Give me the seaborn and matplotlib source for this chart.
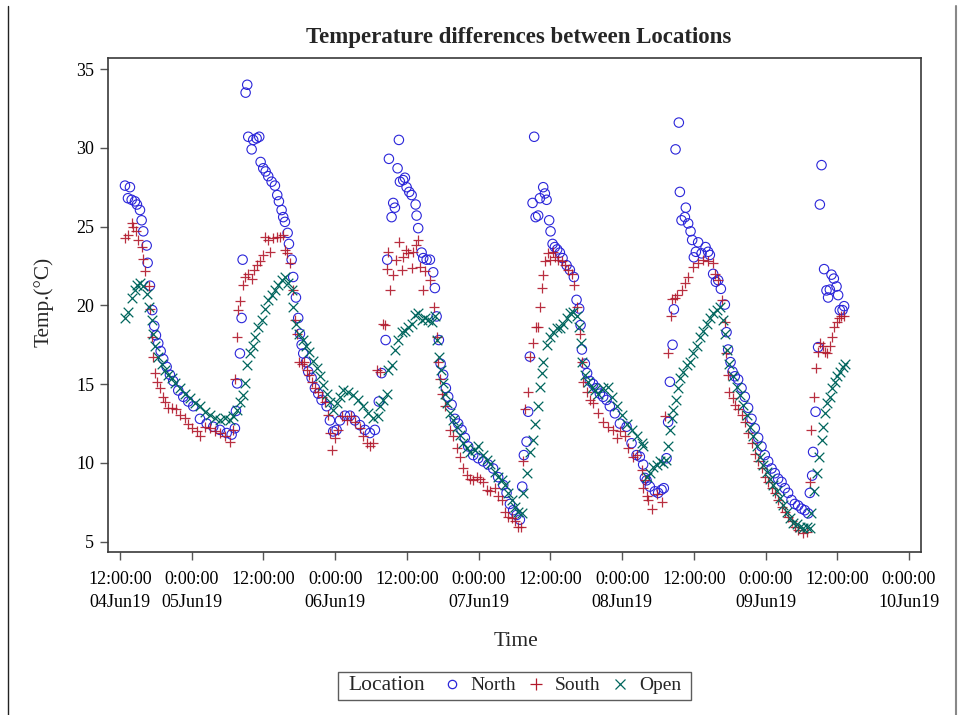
import numpy as np
import pandas as pd
import matplotlib
matplotlib.use("Agg")
import matplotlib.pyplot as plt
from matplotlib.lines import Line2D
from matplotlib.offsetbox import HPacker, DrawingArea
import seaborn as sns

# ---------------- data (hours after 04Jun19 12:00, temperature °C) ----------------
north_t = [0.84,1.34,1.67,1.96,2.51,2.84,3.35,3.63,3.90,4.47,4.63,5.02,5.40,5.74,6.02,6.41,6.81,7.24,7.81,8.36,
           8.91,9.75,10.59,11.42,12.26,13.38,14.50,15.60,16.73,17.85,18.68,19.23,19.40,19.60,20.07,20.35,20.52,21.02,21.29,21.46,
           22.03,22.29,22.86,23.30,23.53,23.97,24.37,24.80,25.37,25.92,26.31,26.59,27.04,27.31,27.60,28.05,28.27,28.72,28.98,29.44,
           29.82,30.11,30.39,30.66,31.11,31.49,32.06,32.61,33.17,33.73,34.57,35.12,35.67,36.24,36.80,37.63,38.47,39.30,40.14,40.98,
           41.81,42.65,43.30,43.77,44.44,44.71,44.99,45.44,45.71,45.99,46.44,46.66,46.83,47.38,47.67,47.95,48.39,48.79,49.46,49.62,
           49.89,50.46,50.73,51.30,51.85,52.40,52.68,52.97,53.35,53.64,54.07,54.52,54.91,55.48,56.03,56.58,57.15,57.70,58.25,59.09,
           59.93,60.76,61.60,62.43,63.27,64.11,64.67,65.23,65.78,66.35,66.90,67.29,67.57,68.02,68.29,68.57,69.02,69.29,69.53,69.96,
           70.25,70.80,71.08,71.37,71.80,72.03,72.37,72.75,73.14,73.59,74.04,74.71,75.26,75.93,76.38,76.82,77.05,77.27,77.77,78.15,
           78.61,79.16,79.73,80.28,80.83,81.40,81.95,82.79,83.63,84.74,85.58,86.42,86.97,87.52,87.81,88.09,88.64,89.48,90.03,90.60,
           90.98,91.43,91.70,91.99,92.44,92.66,92.94,93.49,93.66,93.94,94.50,94.66,95.05,95.45,95.72,96.00,96.34,96.72,97.29,97.96,
           98.39,98.68,99.23,99.68,100.07,100.52,101.19,101.47,101.74,102.14,102.47,102.86,103.41,103.98,104.53,105.08,105.65,106.20,106.76,107.32,
           107.87,108.43,109.00,109.55,110.10,110.67,111.22,111.77,112.34,112.89,113.44,114.01,114.56,115.12,115.40,115.79,115.95,116.36,116.79,117.08,
           117.36,117.79,118.19,118.46,118.75,119.03,119.42,119.87,120.14,120.42,120.87,121.14]
north_v = [27.6,26.8,27.5,26.7,26.6,26.4,26.05,25.4,24.7,23.8,22.7,21.25,19.7,18.7,18.1,17.6,17.1,16.6,16.1,15.6,
           15.2,14.6,14.2,13.9,13.6,12.8,12.5,12.3,12.1,11.9,11.8,12.2,13.3,15.05,16.95,19.2,22.9,33.5,34.0,30.7,
           29.9,30.5,30.6,30.7,29.1,28.7,28.5,28.2,27.85,27.6,27.0,26.6,26.05,25.6,25.3,24.6,23.9,22.9,21.8,20.5,
           19.2,18.2,17.5,16.95,16.4,15.8,15.4,14.75,14.4,14.0,13.6,12.7,12.0,12.1,12.7,13.0,13.0,12.7,12.4,12.1,
           11.9,12.1,13.9,15.7,17.8,22.9,29.3,25.6,26.5,26.2,28.7,30.5,27.85,27.95,28.1,27.5,27.2,27.0,26.4,25.7,
           24.9,23.35,23.0,22.9,22.9,22.1,21.1,19.3,17.8,16.3,15.6,14.75,14.2,13.7,12.8,12.5,12.1,11.6,11.05,10.5,
           10.3,10.1,9.9,9.65,9.1,8.6,8.1,7.4,7.0,6.7,6.4,8.5,10.5,11.35,13.25,16.75,26.5,30.7,25.6,25.7,
           26.8,27.5,27.1,26.7,25.4,24.7,23.9,23.7,23.55,23.35,23.0,22.55,22.25,21.8,20.35,19.8,18.75,17.2,16.3,15.7,
           15.2,15.0,14.75,14.4,14.2,14.0,13.6,13.15,12.5,12.3,11.25,10.5,10.4,9.9,9.05,8.9,8.5,8.2,8.1,8.3,
           8.4,10.3,12.6,15.15,17.5,19.75,29.9,31.6,27.2,25.4,25.6,26.2,25.2,24.7,24.15,23.05,23.4,24.0,23.3,23.7,
           23.4,23.2,22.0,21.5,21.6,21.05,20.05,18.3,17.2,16.4,15.8,15.5,15.3,14.75,14.2,13.5,12.8,12.2,11.6,11.05,
           10.5,10.1,9.65,9.35,9.0,8.8,8.4,8.1,7.65,7.4,7.3,7.1,7.0,6.8,8.1,9.2,10.7,13.25,17.35,26.4,
           28.9,22.3,20.95,20.5,21.0,21.95,21.7,21.2,20.65,19.7,19.7,19.95]

south_t = [0.84,1.39,1.96,2.22,2.68,3.06,3.63,3.80,4.18,4.90,5.02,5.30,5.57,5.85,6.24,6.69,7.14,7.53,8.08,8.65,
           9.37,10.04,10.87,11.42,11.99,12.83,13.38,14.22,15.05,15.89,16.73,17.56,18.40,18.95,19.23,19.52,19.69,20.07,20.52,20.91,
           21.46,22.03,22.41,22.86,23.42,23.97,24.25,24.80,25.09,25.64,26.21,26.76,27.21,27.60,27.98,28.43,28.88,29.27,29.55,29.94,
           30.39,30.77,31.23,31.66,32.06,32.61,33.17,33.73,34.29,34.84,35.12,35.51,35.96,36.51,37.08,37.92,38.58,39.30,40.14,40.69,
           41.26,41.81,42.36,43.00,43.50,44.04,44.32,44.60,44.87,45.16,45.71,46.16,46.71,47.11,47.38,47.83,48.22,48.79,49.06,49.51,
           49.89,50.18,50.73,51.01,51.85,52.57,52.97,53.24,53.52,53.80,54.36,55.19,55.74,56.31,56.87,57.42,57.99,58.54,59.09,59.66,
           60.21,60.76,61.33,61.88,62.72,63.27,63.84,64.39,64.94,65.51,66.06,66.62,67.02,67.45,67.74,68.29,68.57,69.12,69.53,69.96,
           70.25,70.53,70.80,71.08,71.63,71.92,72.37,72.75,73.31,73.87,74.43,74.98,75.55,75.93,76.48,76.94,77.22,77.49,78.05,78.61,
           79.16,80.00,80.83,81.67,82.51,83.07,83.63,84.46,85.01,85.85,86.42,87.25,87.52,87.81,88.09,88.37,88.93,89.77,90.60,91.15,
           91.70,92.10,92.27,92.82,93.21,93.94,94.50,95.05,95.89,96.72,97.56,98.39,99.13,99.51,100.07,100.64,101.19,101.36,101.74,101.91,
           102.47,102.86,103.41,103.98,104.53,105.08,105.65,106.20,106.76,107.32,107.87,108.43,109.00,109.55,110.10,110.67,111.22,111.77,112.34,112.89,
           113.44,114.28,114.85,115.40,115.68,116.07,116.36,116.79,117.08,117.53,117.92,118.30,118.75,119.03,119.42,119.87,120.30,120.70,121.09]
south_v = [24.25,24.45,25.2,25.0,24.7,24.15,23.7,22.95,22.2,21.2,19.8,18.0,16.75,15.7,15.15,14.75,14.2,13.9,13.5,13.5,
           13.4,13.05,12.85,12.5,12.2,12.0,11.7,12.3,12.2,12.0,11.9,11.7,11.35,12.1,15.3,18.0,19.7,20.25,21.3,21.8,
           22.0,21.7,22.25,22.55,22.8,23.2,24.35,24.15,23.4,24.25,24.35,24.35,24.45,23.5,23.3,22.7,21.0,19.1,18.2,16.4,
           16.3,16.4,15.9,15.6,15.15,14.75,14.5,14.2,13.9,13.05,11.9,10.8,11.6,12.1,12.95,12.7,12.95,12.6,12.2,11.7,
           11.25,11.05,11.25,15.9,15.8,18.85,18.75,22.3,23.4,20.95,21.9,22.9,24.05,22.25,23.1,23.5,23.3,22.35,23.4,23.85,
           24.15,22.45,20.95,22.15,21.6,19.9,18.0,16.4,15.3,14.4,13.6,12.1,11.7,10.95,10.4,9.65,9.25,9.0,8.9,9.1,
           9.0,8.8,8.3,8.2,8.4,7.9,7.65,6.9,6.6,6.5,6.3,5.95,5.95,10.1,13.4,14.5,16.75,17.6,18.65,18.65,
           19.9,21.1,21.9,22.8,23.35,22.9,23.4,23.1,22.9,22.8,22.55,22.25,22.0,21.3,19.9,18.2,16.4,15.15,14.5,14.0,
           13.8,13.15,12.6,12.3,12.1,11.6,12.0,11.7,10.95,10.4,10.5,9.55,8.4,8.9,7.9,7.65,7.1,8.0,7.55,12.95,
           16.95,19.3,20.4,20.45,20.65,20.95,21.4,21.8,22.45,22.7,22.9,22.8,22.7,22.0,21.6,20.35,18.95,16.95,15.6,14.5,
           14.1,13.7,13.4,13.05,12.6,11.9,11.25,10.6,10.1,9.65,9.1,8.8,8.4,8.1,7.65,7.2,6.9,6.6,6.3,5.95,
           5.75,5.55,5.65,8.8,12.1,14.2,16.0,17.05,17.6,17.4,17.05,16.95,17.4,18.0,18.65,18.95,19.2,19.3,19.35]

open_t = [0.84,1.39,1.96,2.51,2.89,3.35,3.90,4.47,4.90,5.30,5.57,5.85,6.41,6.97,7.53,8.08,8.65,9.20,10.04,10.87,
          11.71,12.54,13.38,14.22,15.05,15.89,16.73,17.56,18.40,18.95,19.52,20.07,20.52,20.91,21.29,21.74,22.19,22.58,23.13,23.70,
          24.25,24.80,25.37,25.92,26.48,27.04,27.60,28.15,28.72,28.98,29.44,29.99,30.56,31.11,31.66,32.33,32.90,33.45,34.00,34.57,
          35.12,35.67,36.24,36.80,37.35,38.18,39.02,39.86,40.69,41.53,42.36,43.20,43.49,44.04,44.60,44.87,45.44,45.99,46.55,47.11,
          47.67,48.22,48.79,49.34,49.89,50.46,51.01,51.56,52.13,52.68,52.97,53.35,53.64,53.97,54.36,54.74,55.19,55.74,56.31,56.87,
          57.42,57.99,58.54,59.37,59.93,60.76,61.33,61.88,62.72,63.27,63.84,64.39,64.94,65.51,66.06,66.62,67.18,67.45,68.02,68.57,
          69.12,69.41,69.96,70.25,70.53,70.80,71.37,71.92,72.47,73.04,73.59,74.15,74.71,75.26,75.82,76.38,76.82,77.05,77.32,77.77,
          78.32,78.89,79.44,80.00,80.83,81.67,82.24,83.07,83.91,84.74,85.58,86.42,87.25,87.52,88.09,88.64,89.20,89.77,90.32,90.88,
          91.33,91.70,91.99,92.27,92.55,93.00,93.38,93.66,94.22,94.78,95.34,95.89,96.46,97.01,97.56,98.13,98.68,99.23,99.80,100.35,
          100.90,101.19,101.47,101.91,102.47,103.14,103.70,104.25,104.81,105.37,105.92,106.49,107.04,107.59,108.16,108.71,109.27,109.83,110.39,110.94,
          111.51,112.06,112.61,113.18,113.73,114.28,114.85,115.40,115.68,116.07,116.52,116.90,117.36,117.64,117.92,118.30,118.75,119.19,119.58,119.97,
          120.42,120.87,121.25]
open_v = [19.2,19.6,20.45,20.95,21.3,21.4,21.2,20.75,19.9,19.1,18.2,17.4,16.75,16.3,15.9,15.6,15.4,15.05,14.75,14.4,
          14.1,13.8,13.6,13.25,13.05,12.85,12.7,12.85,12.7,12.95,13.35,13.9,14.3,15.05,16.2,16.95,17.4,18.0,18.65,19.1,
          19.8,20.35,20.65,20.95,21.3,21.6,21.8,21.4,20.95,19.9,18.85,18.2,17.8,17.4,17.05,16.5,16.0,15.5,14.95,14.4,
          13.9,13.35,13.8,14.2,14.6,14.5,14.3,14.0,13.6,13.15,12.85,12.95,13.6,14.0,14.4,15.9,16.2,17.2,17.8,18.3,
          18.4,18.65,18.85,19.4,19.5,19.1,19.2,19.1,18.95,19.3,17.8,16.75,15.9,15.05,14.4,13.8,13.15,12.7,12.3,11.8,
          11.25,10.95,10.7,10.8,11.05,10.5,10.2,9.95,9.45,9.1,8.9,8.6,8.1,7.65,7.2,6.9,6.8,8.1,9.35,10.7,
          11.45,12.5,13.6,14.85,15.7,16.4,17.5,18.0,18.3,18.55,18.55,18.85,19.2,19.5,19.6,19.3,18.65,17.6,16.4,15.6,
          15.15,14.75,14.6,14.4,14.75,14.85,14.2,13.6,13.05,12.5,12.1,11.7,11.25,11.05,9.1,9.35,9.75,9.9,10.1,10.0,
          10.2,11.05,12.1,12.85,13.35,14.0,14.75,15.4,15.8,16.2,16.4,16.95,17.4,18.0,18.4,18.85,19.2,19.5,19.7,19.9,
          19.1,18.2,17.2,16.3,15.5,14.85,14.3,13.7,13.05,12.3,11.7,11.05,10.4,9.9,9.45,9.0,8.6,8.2,7.8,7.35,
          6.9,6.5,6.2,6.1,5.95,5.85,5.95,5.85,6.8,8.2,9.35,10.4,11.45,12.3,13.15,13.8,14.2,14.75,15.15,15.5,
          15.8,16.1,16.3]

locations = ["North", "South", "Open"]
colors = {"North": "#2A25D9", "South": "#B2182B", "Open": "#01665E"}

tick_labels = ["12:00:00\n04Jun19", "0:00:00\n05Jun19", "12:00:00", "0:00:00\n06Jun19",
               "12:00:00", "0:00:00\n07Jun19", "12:00:00", "0:00:00\n08Jun19",
               "12:00:00", "0:00:00\n09Jun19", "12:00:00", "0:00:00\n10Jun19"]

base = pd.Timestamp("2019-06-04 12:00")

def frame(t, v, name):
    return pd.DataFrame({"Time": base + pd.to_timedelta(t, unit="h"), "Temp": v, "Location": name})

df = pd.concat([frame(north_t, north_v, "North"),
                frame(south_t, south_v, "South"),
                frame(open_t, open_v, "Open")], ignore_index=True)

# ---------------- style ----------------
sns.set_theme(style="ticks")
plt.rcParams["font.family"] = ["Liberation Serif", "DejaVu Serif"]

fig = plt.figure(figsize=(9.58, 7.15), dpi=100)
ax = fig.add_axes([108/958, 1-552/715, (921-108)/958, (552-57.5)/715])

sns.scatterplot(data=df[df.Location == "North"], x="Time", y="Temp", ax=ax,
                marker="o", s=46, facecolors="none", edgecolor=colors["North"],
                linewidth=0.8, legend=False, zorder=3)
sns.scatterplot(data=df[df.Location == "South"], x="Time", y="Temp", ax=ax,
                marker="+", s=55, color=colors["South"], linewidth=0.9, alpha=0.9,
                legend=False, zorder=4)
sns.scatterplot(data=df[df.Location == "Open"], x="Time", y="Temp", ax=ax,
                marker="x", s=48, color=colors["Open"], linewidth=0.9,
                legend=False, zorder=5)

ax.set_ylim(4.35, 35.73)
ax.set_yticks([5, 10, 15, 20, 25, 30, 35])
ticks = [base + pd.Timedelta(hours=12*k) for k in range(len(tick_labels))]
ax.set_xlim(base - pd.Timedelta(hours=2), base + pd.Timedelta(hours=134))
ax.set_xticks(ticks)
ax.set_xticklabels(tick_labels, linespacing=1.45)

for s in ["top", "right", "left", "bottom"]:
    ax.spines[s].set_visible(True)
    ax.spines[s].set_color("#3a3a3a")
    ax.spines[s].set_linewidth(1.2)
ax.tick_params(axis="both", direction="out", length=6, width=1.0, color="#555555",
               labelsize=13, labelcolor="black")
ax.tick_params(axis="x", pad=8)
ax.tick_params(axis="y", pad=4)
ax.set_xlabel("")
ax.set_ylabel("")
ax.grid(False)

fig.text(519/958, 1-37/715, "Temperature differences between Locations", ha="center",
         va="center", fontsize=16.5, fontweight="bold")
fig.text(516/958, 1-641/715, "Time", ha="center", va="center", fontsize=15.5)
fig.text(44/958, 1-302/715, "Temp.(°C)", ha="center", va="center", rotation=90, fontsize=15.3)

# legend: title "Location" placed inline to the left of the entries
hN = Line2D([], [], linestyle="none", marker="o", markerfacecolor="none",
            markeredgecolor=colors["North"], markersize=6, markeredgewidth=0.9)
hS = Line2D([], [], linestyle="none", marker="+", color=colors["South"], markersize=8, markeredgewidth=0.9)
hO = Line2D([], [], linestyle="none", marker="x", color=colors["Open"], markersize=6.5, markeredgewidth=0.9)
leg = fig.legend([hN, hS, hO], locations, loc="center", title="Location",
                 title_fontsize=15.5,
                 bbox_to_anchor=(514.5/958, 1-686/715), ncol=3, frameon=True,
                 fontsize=14, handlelength=0.8, handletextpad=0.55, columnspacing=0.64,
                 borderpad=0.25, fancybox=False, edgecolor="#333333")
leg.get_frame().set_linewidth(1.0)
try:
    old = leg._legend_box
    new = HPacker(pad=old.pad, sep=0, align="baseline",
                  children=[DrawingArea(4, 1), leg._legend_title_box, DrawingArea(14, 1),
                            leg._legend_handle_box, DrawingArea(4, 1)])
    new.set_figure(fig)
    new.axes = leg.axes
    new.set_offset(leg._findoffset)
    leg._legend_box = new
except Exception:
    pass

# page border lines
fig.add_artist(Line2D([8/958, 8/958], [0, 1-6/715], color="#222222", linewidth=1.0))
fig.add_artist(Line2D([956/958, 956/958], [0, 1-6/715], color="#888888", linewidth=1.5))

fig.savefig("out.png", dpi=100)
